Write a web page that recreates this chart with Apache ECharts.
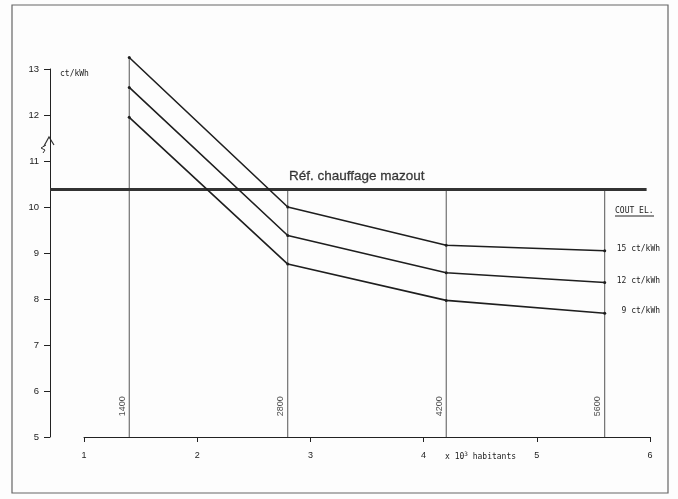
<!DOCTYPE html>
<html>
<head>
<meta charset="utf-8">
<script src="https://cdn.jsdelivr.net/npm/echarts@6/dist/echarts.min.js"></script>
<style>
html,body{margin:0;padding:0;background:#fdfdfd;}
#c{width:678px;height:499px;}
</style>
</head>
<body>
<div id="c"></div>
<script>
// Population (x 10^3 habitants) at the four reference points
var populations = [1.4, 2.8, 4.2, 5.6];
// Cost curves (ct/kWh) for each electricity price
var cost15 = [13.25, 10.0, 9.17, 9.05];
var cost12 = [12.6, 9.38, 8.57, 8.36];
var cost9  = [11.95, 8.76, 7.97, 7.69];
var seriesNames = ['15 ct/kWh', '12 ct/kWh', ' 9 ct/kWh'];
// Reference: oil heating
var refValue = 10.38;
var refLabel = 'Réf. chauffage mazout';
var refLabelX = 3.41;
var refEndX = 5.97;
// Axes
var xTicks = [1, 2, 3, 4, 5, 6];
var yTicks = [5, 6, 7, 8, 9, 10, 11, 12, 13];
var xMinPlot = 0.7;
var popLabelY = 5.67;

var ink = '#1e1e1e';
var mono = '"DejaVu Sans Mono", monospace';
var sans = '"Liberation Sans Narrow", "Liberation Sans", Arial, sans-serif';

function pts(ys) { return populations.map(function (x, i) { return [x, ys[i]]; }); }

var curves = [cost15, cost12, cost9];
var series = [];

// vertical population lines
populations.forEach(function (x, i) {
  var top = Math.max(cost15[i], refValue);
  series.push({
    type: 'line', xAxisIndex: 0, yAxisIndex: 0, silent: true, clip: false,
    data: [[x, yTicks[0]], [x, top]], symbol: 'none',
    lineStyle: { color: '#555', width: 1 }, z: 1
  });
});

// reference line
series.push({
  type: 'line', xAxisIndex: 0, yAxisIndex: 0, silent: true, clip: false,
  data: [[xMinPlot, refValue], [refEndX, refValue]], symbol: 'none',
  lineStyle: { color: '#333', width: 3 }, z: 2
});

// cost curves
curves.forEach(function (c, k) {
  series.push({
    type: 'line', name: seriesNames[k], xAxisIndex: 0, yAxisIndex: 0, clip: false,
    data: pts(c), symbol: 'circle', symbolSize: 3,
    itemStyle: { color: ink }, lineStyle: { color: ink, width: 1.6 }, z: 3,
    endLabel: {
      show: true, formatter: seriesNames[k], distance: 12, offset: [0, -2],
      fontFamily: mono, fontSize: 8, color: '#222'
    }
  });
});

// population labels
series.push({
  type: 'scatter', xAxisIndex: 0, yAxisIndex: 0, silent: true,
  data: populations.map(function (x) { return [x, popLabelY]; }),
  symbolSize: 0,
  label: {
    show: true, position: 'inside', offset: [0, -7], rotate: 90,
    formatter: function (p) { return String(Math.round(p.value[0] * 1000)); },
    fontFamily: sans, fontSize: 9, color: '#222'
  }
});

// reference label
series.push({
  type: 'scatter', xAxisIndex: 0, yAxisIndex: 0, silent: true,
  data: [[refLabelX, refValue]], symbolSize: 0,
  label: {
    show: true, position: 'top', distance: 6, formatter: refLabel,
    fontFamily: sans, fontSize: 13.5, color: '#111', fontWeight: 500,
    textBorderColor: '#111', textBorderWidth: 0.3
  }
});

var chart = echarts.init(document.getElementById('c'));
chart.setOption({
  backgroundColor: '#fdfdfd',
  animation: false,
  grid: [
    { left: 50, right: 28, top: 69, bottom: 62 },
    { left: 84, right: 28, top: 69, bottom: 62 }
  ],
  xAxis: [
    { gridIndex: 0, type: 'value', min: xMinPlot, max: 6, show: false },
    {
      gridIndex: 1, type: 'value', min: 1, max: 6, interval: 1,
      axisLine: { show: true, lineStyle: { color: '#222', width: 1 } },
      axisTick: { show: true, length: 5, lineStyle: { color: '#222' } },
      axisLabel: { margin: 14, fontFamily: sans, fontSize: 9, color: '#222', showMinLabel: true, showMaxLabel: true },
      splitLine: { show: false }
    }
  ],
  yAxis: [
    {
      gridIndex: 0, type: 'value', min: 5, max: 13, interval: 1,
      axisLine: { show: true, lineStyle: { color: '#222', width: 1 } },
      axisTick: { show: true, length: 6, lineStyle: { color: '#222' } },
      axisLabel: { margin: 11, fontFamily: sans, fontSize: 9.5, color: '#222' },
      splitLine: { show: false }
    },
    { gridIndex: 1, type: 'value', min: 5, max: 13, show: false }
  ],
  series: series,
  graphic: [
    { type: 'rect', shape: { x: 12, y: 5, width: 656, height: 488 },
      style: { fill: 'none', stroke: '#666', lineWidth: 1.2 }, silent: true },
    { type: 'text', x: 60, y: 74, style: { text: 'ct/kWh', font: '8px ' + mono, fill: '#222', verticalAlign: 'middle' } },
    { type: 'text', x: 615, y: 211, style: { text: 'COUT EL.', font: '8px ' + mono, fill: '#222', verticalAlign: 'middle' } },
    { type: 'line', shape: { x1: 615, y1: 216, x2: 654, y2: 216 }, style: { stroke: '#222', lineWidth: 1 } },
    { type: 'text', x: 445, y: 457, style: {
        text: 'x 10{s|3} habitants', font: '8px ' + mono, fill: '#222', verticalAlign: 'middle',
        rich: { s: { fontSize: 6, fontFamily: mono, verticalAlign: 'top', padding: [0, 0, 6, 0] } }
      } },
    { type: 'polyline', shape: { points: [[44, 146], [49, 137], [54, 145]] }, style: { stroke: '#333', lineWidth: 1.2, fill: 'none' } },
    { type: 'polyline', shape: { points: [[46, 145], [41, 148], [45, 150], [43, 153]] }, style: { stroke: '#333', lineWidth: 1, fill: 'none' } }
  ]
});
</script>
</body>
</html>
